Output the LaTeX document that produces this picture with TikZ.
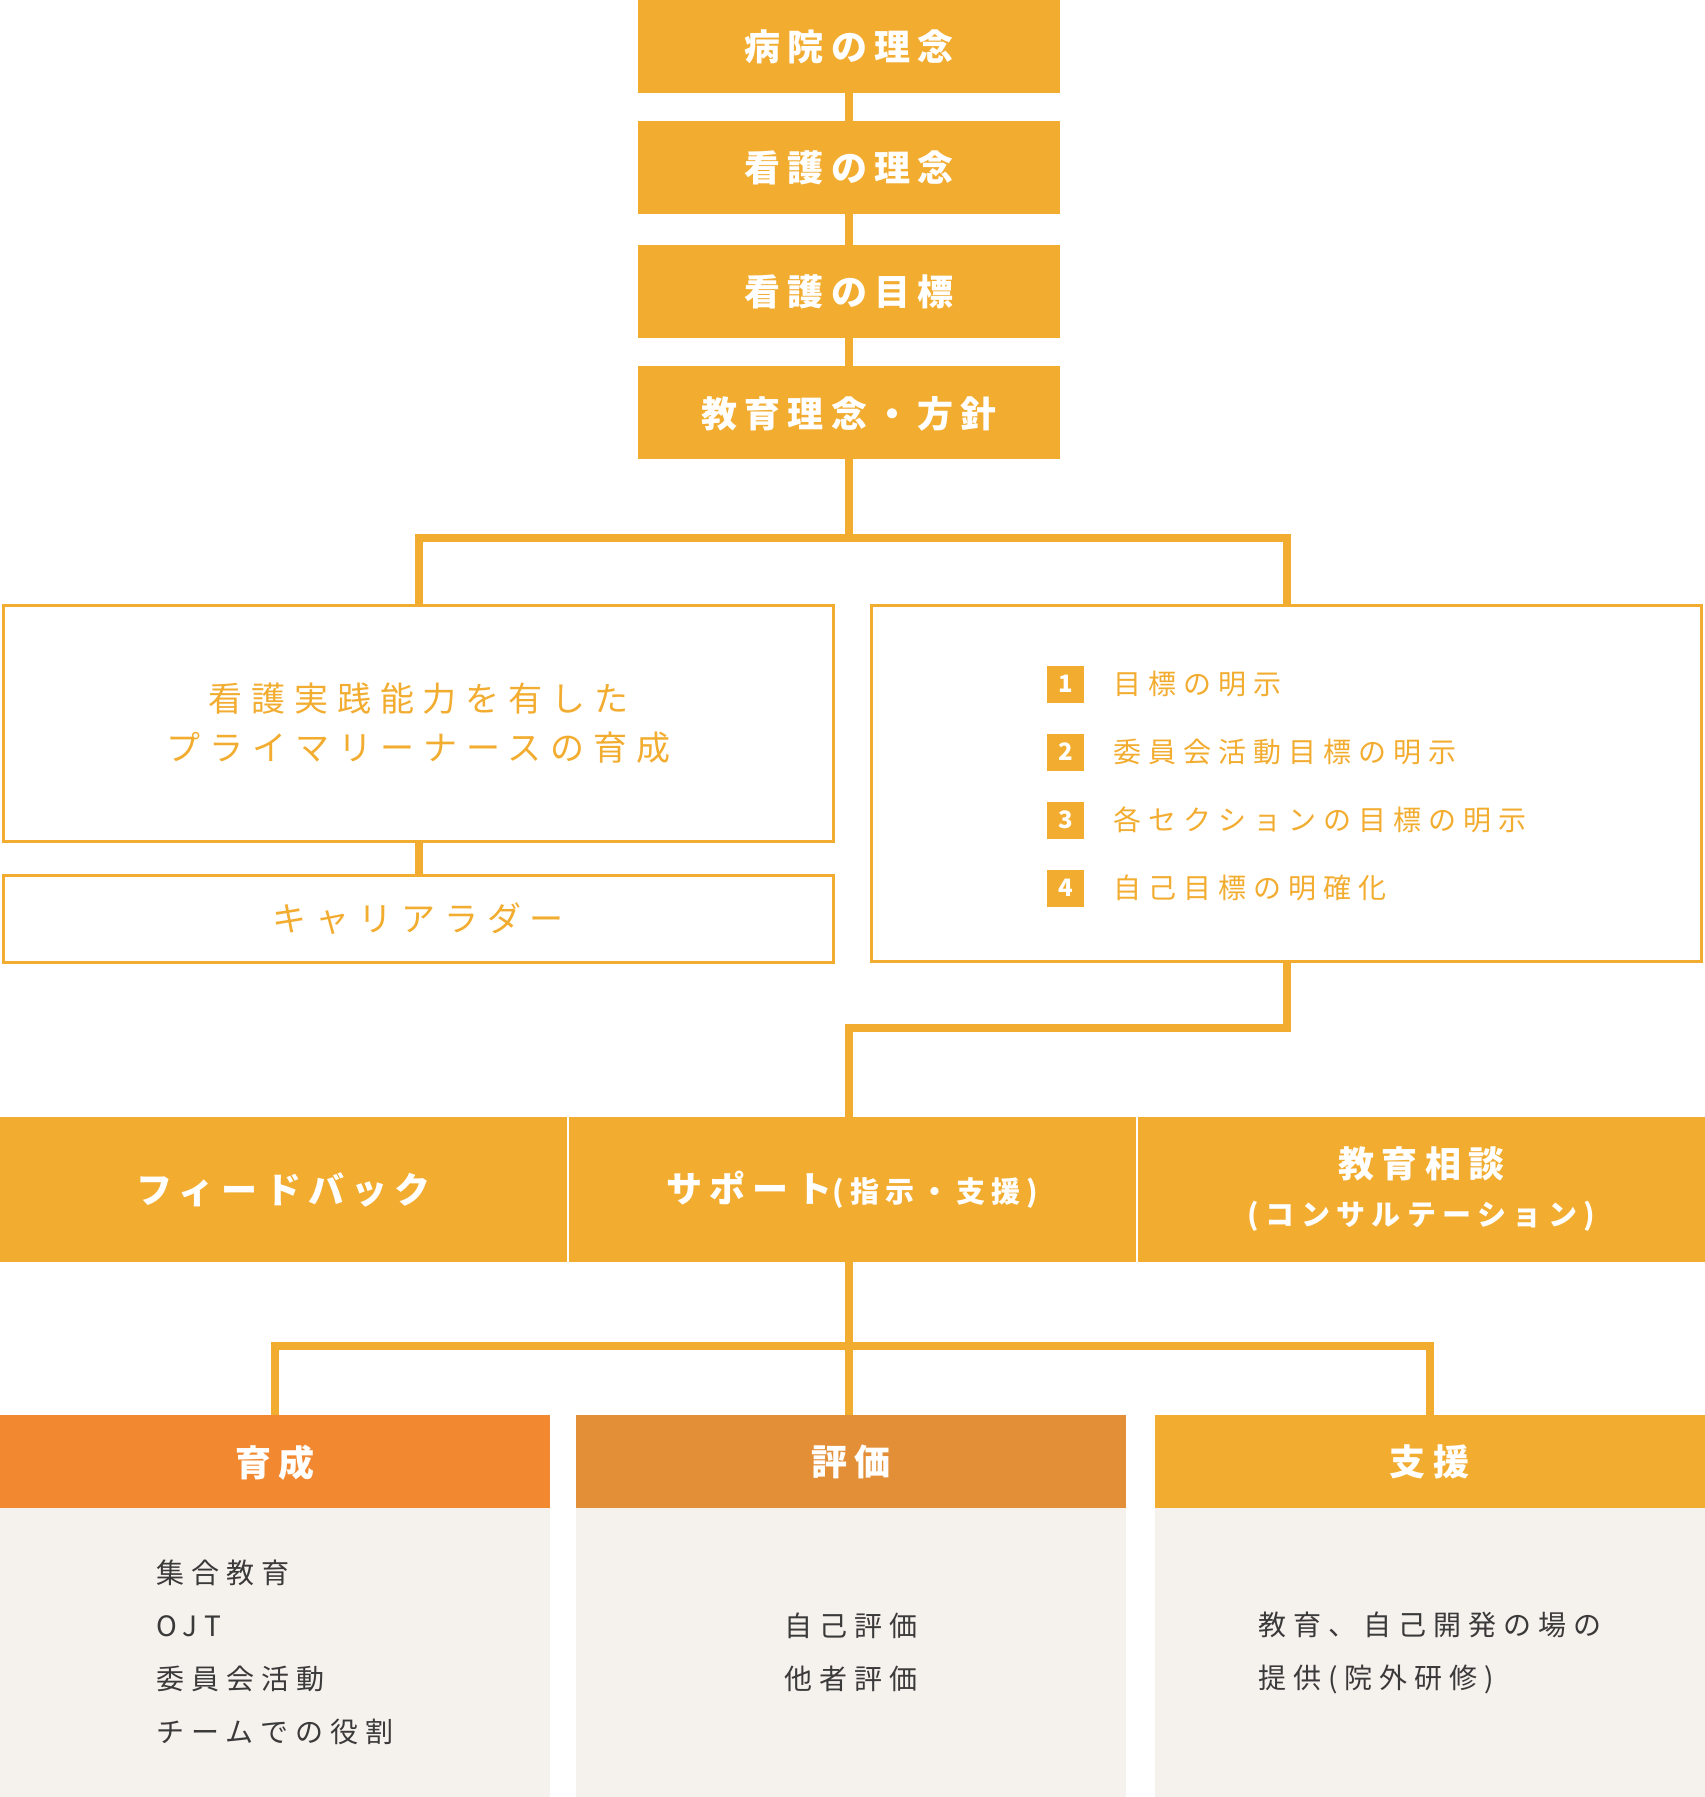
\documentclass[tikz,border=0pt]{standalone}
\usepackage{fontspec}
\setmainfont{Noto Sans CJK JP}
\usetikzlibrary{positioning}
\definecolor{ochre}{HTML}{F2AC30}
\definecolor{carrot}{HTML}{F28830}
\definecolor{amber}{HTML}{E38F38}
\definecolor{paper}{HTML}{F5F1ED}
\definecolor{ink}{HTML}{3A3A3A}
\newcommand{\headfont}{\fontsize{36pt}{48pt}\selectfont\bfseries\addfontfeature{LetterSpace=20}}
\newcommand{\subheadfont}{\fontsize{29pt}{48pt}\selectfont\bfseries\addfontfeature{LetterSpace=22}}
\newcommand{\aimfont}{\fontsize{34pt}{49pt}\selectfont\addfontfeature{LetterSpace=26}}
\newcommand{\itemfont}{\fontsize{28pt}{34pt}\selectfont\addfontfeature{LetterSpace=25}}
\newcommand{\bodyfont}{\fontsize{28pt}{53pt}\selectfont\addfontfeature{LetterSpace=25}}

\begin{document}
\begin{tikzpicture}[x=1pt, y=-1pt,
  every node/.style={inner sep=0pt},
  headbox/.style={fill=ochre, text=white, font=\headfont, align=center, text depth=0.2em, minimum width=422pt, minimum height=93pt},
  rowbox/.style={fill=ochre, text=white, font=\headfont, align=center, minimum width=567pt, minimum height=145pt},
  outline/.style={draw=ochre, line width=3pt, text=ochre, font=\aimfont, align=center, minimum width=830pt},
  numbox/.style={fill=ochre, text=white, font=\fontsize{24pt}{24pt}\selectfont\bfseries, minimum size=37pt},
  itemtext/.style={text=ochre, font=\itemfont},
  tabhead/.style={text=white, font=\headfont, text depth=0.22em, minimum width=550pt, minimum height=93pt},
  tabbody/.style={fill=paper, text=ink, font=\bodyfont, align=left, minimum width=550pt, minimum height=289pt},
  link/.style={draw=ochre, line width=8pt}]
  \useasboundingbox (0,0) rectangle (1705,1797);
  % philosophy stack
  \node[headbox] (hosp)  at (849,46.5)  {病院の理念};
  \node[headbox] (nphil) at (849,167.5) {看護の理念};
  \node[headbox] (ngoal) at (849,291.5) {看護の目標};
  \node[headbox] (edu)   at (849,412.5) {教育理念・方針};
  \draw[link] (hosp) -- (nphil);
  \draw[link] (nphil) -- (ngoal);
  \draw[link] (ngoal) -- (edu);
  % aims and goals
  \node[outline, minimum height=236pt] (practice) at (418.5,723.5) {看護実践能力を有した\\プライマリーナースの育成};
  \node[outline, minimum height=87pt] (career) at (418.5,919) {キャリアラダー};
  \node[outline, minimum height=356pt] (goals) at (1286.5,783.5) {};
  \node[numbox] (n1) at (1065.5,684) {1};
  \node[numbox] (n2) at (1065.5,752) {2};
  \node[numbox] (n3) at (1065.5,820) {3};
  \node[numbox] (n4) at (1065.5,888) {4};
  \node[itemtext, right=29pt of n1] (g1) {目標の明示};
  \node[itemtext, right=29pt of n2] (g2) {委員会活動目標の明示};
  \node[itemtext, right=29pt of n3] (g3) {各セクションの目標の明示};
  \node[itemtext, right=29pt of n4] (g4) {自己目標の明確化};
  \coordinate (split) at (849,537.5);
  \draw[link] (edu) -- (split);
  \draw[link] (practice.north) |- (split) -| (goals.north);
  \draw[link] (practice) -- (career);
  % support row
  \node[rowbox] (feedback) at (283.5,1189.5) {フィードバック};
  \node[rowbox] (support)  at (852.5,1189.5) {サポート{\subheadfont(指示・支援)}};
  \node[rowbox] (consult)  at (1421.5,1189.5) {教育相談\\{\subheadfont(コンサルテーション)}};
  \coordinate (merge) at (849,1028);
  \draw[link] (goals.south) |- (merge) -- (merge |- support.north);
  % three pillars
  \node[tabhead, fill=carrot] (grow) at (275,1461.5)  {育成};
  \node[tabhead, fill=amber]  (eval) at (851,1461.5)  {評価};
  \node[tabhead, fill=ochre]  (aid)  at (1429.5,1461.5) {支援};
  \node[tabbody] (growbody) at (275,1652.5)  {集合教育\\OJT\\委員会活動\\チームでの役割};
  \node[tabbody] (evalbody) at (851,1652.5)  {自己評価\\他者評価};
  \node[tabbody] (aidbody)  at (1429.5,1652.5) {教育、自己開発の場の\\提供(院外研修)};
  \coordinate (fork) at (849,1346);
  \draw[link] (fork |- support.south) -- (fork);
  \draw[link] (grow.north) |- (fork) -| (aid.north);
  \draw[link] (fork) -- (fork |- eval.north);
\end{tikzpicture}
\end{document}
